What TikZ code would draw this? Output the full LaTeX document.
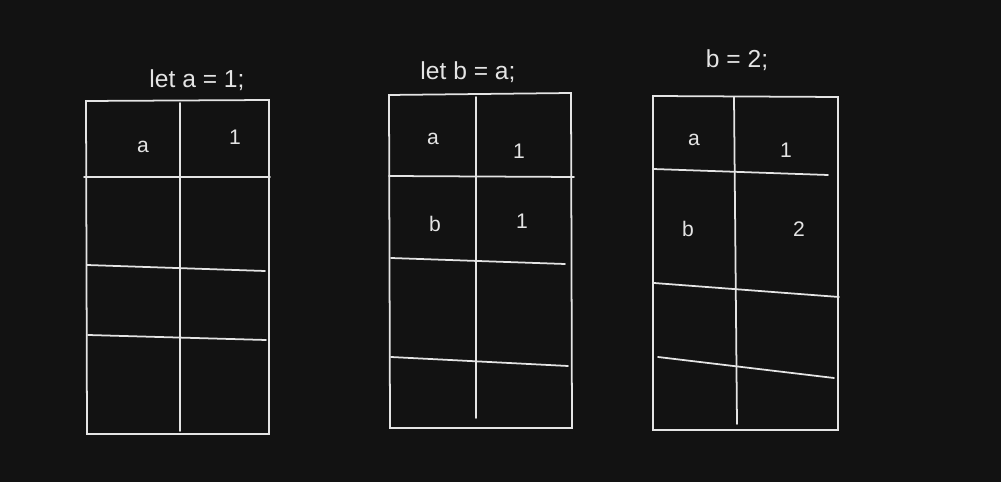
\documentclass[tikz,border=0pt]{standalone}
\usepackage{fontspec}
\setmainfont{Liberation Sans}
\usepackage{tikz}
\definecolor{board}{HTML}{121212}
\definecolor{chalk}{HTML}{E4E4E4}
\tikzset{
    cell/.style={draw=chalk, line width=1pt, line cap=round},
    chalktext/.style={text=chalk, inner sep=0pt, font=\fontsize{12}{14}\selectfont},
    stmt/.style={chalktext, font=\fontsize{14}{16}\selectfont},
}

\begin{document}
\begin{tikzpicture}[x=0.02cm,y=-0.02cm]
\fill[board] (0,0) rectangle (1001,482);

% Frame 1 : let a = 1;
\draw[cell] (86,101) -- (269,100) -- (269,434) -- (87,434) -- cycle;
\draw[cell] (180,103) -- (180,431);
\draw[cell] (84,177) -- (270,177);
\draw[cell] (87,265) -- (265,271);
\draw[cell] (88,335) -- (266,340);
\node[stmt] (stmtA) at (197,80) {let a = 1;};
\node[chalktext] (nameA1) at (143,147) {a};
\node[chalktext] (valA1) at (235,137) {1};

% Frame 2 : let b = a;
\draw[cell] (389,95) -- (571,93) -- (572,428) -- (390,428) -- cycle;
\draw[cell] (476,97) -- (476,418);
\draw[cell] (389,176) -- (574,177);
\draw[cell] (391,258) -- (565,264);
\draw[cell] (391,357) -- (568,366);
\node[stmt] (stmtB) at (468,72) {let b = a;};
\node[chalktext] (nameA2) at (433,139) {a};
\node[chalktext] (valA2) at (519,151) {1};
\node[chalktext] (nameB2) at (435,224) {b};
\node[chalktext] (valB2) at (522,221) {1};

% Frame 3 : b = 2;
\draw[cell] (653,96) -- (838,97) -- (838,430) -- (653,430) -- cycle;
\draw[cell] (734,97) -- (737,424);
\draw[cell] (653,169) -- (828,175);
\draw[cell] (654,283) -- (839,297);
\draw[cell] (658,357) -- (834,378);
\node[stmt] (stmtC) at (737,60) {b = 2;};
\node[chalktext] (nameA3) at (694,140) {a};
\node[chalktext] (valA3) at (786,150) {1};
\node[chalktext] (nameB3) at (688,229) {b};
\node[chalktext] (valB3) at (799,229) {2};
\end{tikzpicture}
\end{document}
